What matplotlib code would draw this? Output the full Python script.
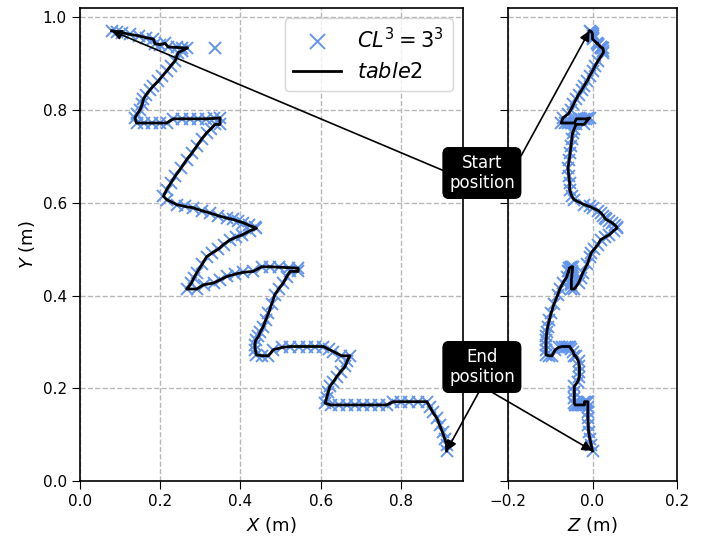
import matplotlib
matplotlib.use("Agg")
import matplotlib.pyplot as plt
import numpy as np

# Trajectory (X, Y, Z in metres), in time order
x_pos = [0.079, 0.092, 0.104, 0.125, 0.146, 0.165, 0.183, 0.187, 0.200, 0.212, 0.220, 0.241, 0.255, 0.268, 0.255, 0.245,
         0.237, 0.226, 0.216, 0.205, 0.195, 0.183, 0.175, 0.165, 0.158, 0.155, 0.150, 0.143, 0.137,
         0.141, 0.160, 0.180, 0.200, 0.216, 0.233, 0.255, 0.275, 0.295, 0.315, 0.335, 0.349, 0.349, 0.337,
         0.327, 0.316, 0.303, 0.291, 0.279, 0.266, 0.252, 0.237, 0.226, 0.216, 0.208, 0.216,
         0.241, 0.262, 0.283, 0.303, 0.324, 0.345, 0.366, 0.382, 0.395, 0.407, 0.422, 0.436, 0.440,
         0.425, 0.405, 0.390, 0.374, 0.358, 0.345, 0.330, 0.316, 0.305, 0.291, 0.284, 0.278, 0.266,
         0.291, 0.308, 0.333, 0.350, 0.366, 0.386, 0.407, 0.432, 0.453, 0.475, 0.497, 0.520, 0.544, 0.544, 0.524,
         0.515, 0.507, 0.496, 0.486, 0.478, 0.470, 0.463, 0.457, 0.450, 0.445, 0.438, 0.436, 0.437, 0.440,
         0.455, 0.470, 0.482, 0.503, 0.524, 0.545, 0.566, 0.587, 0.607, 0.620, 0.632, 0.652, 0.673,
         0.666, 0.661, 0.650, 0.640, 0.632, 0.623, 0.619, 0.615, 0.611,
         0.625, 0.645, 0.665, 0.685, 0.705, 0.725, 0.745, 0.765, 0.781, 0.800, 0.820, 0.843, 0.865,
         0.872, 0.880, 0.890, 0.897, 0.904, 0.910, 0.914, 0.914]
y_pos = [0.971, 0.969, 0.967, 0.963, 0.960, 0.956, 0.953, 0.943, 0.941, 0.944, 0.936, 0.935, 0.934, 0.934, 0.928, 0.924,
         0.906, 0.895, 0.884, 0.873, 0.862, 0.852, 0.844, 0.833, 0.823, 0.812, 0.801, 0.792, 0.783,
         0.772, 0.772, 0.772, 0.772, 0.772, 0.781, 0.781, 0.781, 0.781, 0.781, 0.782, 0.783, 0.769, 0.769,
         0.760, 0.751, 0.737, 0.722, 0.707, 0.693, 0.675, 0.657, 0.642, 0.628, 0.614, 0.607,
         0.596, 0.592, 0.589, 0.583, 0.578, 0.572, 0.567, 0.564, 0.560, 0.557, 0.551, 0.547, 0.545,
         0.540, 0.531, 0.526, 0.520, 0.510, 0.500, 0.492, 0.484, 0.468, 0.449, 0.438, 0.427, 0.414,
         0.414, 0.423, 0.427, 0.434, 0.441, 0.446, 0.450, 0.452, 0.462, 0.462, 0.461, 0.460, 0.459, 0.452, 0.452,
         0.440, 0.427, 0.415, 0.402, 0.382, 0.362, 0.347, 0.333, 0.322, 0.312, 0.303, 0.294, 0.283, 0.272,
         0.270, 0.270, 0.283, 0.288, 0.290, 0.290, 0.290, 0.290, 0.290, 0.284, 0.279, 0.270, 0.270,
         0.258, 0.247, 0.236, 0.225, 0.214, 0.204, 0.192, 0.179, 0.168,
         0.164, 0.164, 0.164, 0.164, 0.164, 0.164, 0.164, 0.164, 0.171, 0.171, 0.171, 0.171, 0.171,
         0.160, 0.148, 0.135, 0.120, 0.105, 0.090, 0.078, 0.065]
z_pos = [-0.007, -0.003, -0.001, 0.000, 0.000, 0.000, 0.000, 0.012, 0.014, 0.011, 0.019, 0.021, 0.023, 0.024, 0.026, 0.026,
         0.013, 0.006, 0.000, -0.007, -0.013, -0.020, -0.025, -0.033, -0.039, -0.045, -0.051, -0.057, -0.070,
         -0.074, -0.066, -0.057, -0.050, -0.043, -0.038, -0.032, -0.027, -0.021, -0.015, -0.010, -0.007, -0.020, -0.039,
         -0.043, -0.047, -0.049, -0.051, -0.053, -0.055, -0.058, -0.056, -0.054, -0.054, -0.049, -0.044,
         -0.020, -0.007, 0.000, 0.014, 0.020, 0.026, 0.029, 0.032, 0.040, 0.046, 0.054, 0.058, 0.058,
         0.050, 0.040, 0.030, 0.019, 0.013, 0.004, -0.003, -0.006, -0.012, -0.023, -0.028, -0.033, -0.043,
         -0.050, -0.050, -0.050, -0.050, -0.049, -0.049, -0.048, -0.048, -0.047, -0.049, -0.051, -0.053, -0.055, -0.056, -0.057,
         -0.061, -0.070, -0.077, -0.082, -0.091, -0.098, -0.102, -0.106, -0.108, -0.109, -0.110, -0.110, -0.110, -0.110,
         -0.102, -0.096, -0.088, -0.080, -0.072, -0.066, -0.060, -0.056, -0.054, -0.050, -0.046, -0.043, -0.040,
         -0.033, -0.031, -0.031, -0.031, -0.035, -0.043, -0.043, -0.043, -0.043,
         -0.041, -0.038, -0.035, -0.032, -0.028, -0.025, -0.022, -0.019, -0.019, -0.017, -0.014, -0.012, -0.011,
         -0.011, -0.011, -0.011, -0.010, -0.009, -0.006, -0.003, 0.000]

# Extra stray measurement seen near the top
x_stray = [0.337]
y_stray = [0.934]
z_stray = [0.020]

marker_label = r"$CL^3 = 3^3$"
line_label = r"$table2$"
x_ticks = [0.0, 0.2, 0.4, 0.6, 0.8]
y_ticks = [0.0, 0.2, 0.4, 0.6, 0.8, 1.0]
z_ticks = [-0.2, 0.0, 0.2]

plt.rcParams['font.family'] = ['DejaVu Sans']
plt.rcParams['mathtext.fontset'] = 'dejavusans'

fig = plt.figure(figsize=(7.01, 5.42), dpi=100)
W, H = 701, 542
ax1 = fig.add_axes([80 / W, 1 - 481 / H, (463 - 80) / W, (481 - 8) / H])
ax2 = fig.add_axes([508 / W, 1 - 481 / H, (677 - 508) / W, (481 - 8) / H])

mcol = '#6495ed'
mx = np.array(x_pos + x_stray)
my = np.array(y_pos + y_stray)
mz = np.array(z_pos + z_stray)

ax1.plot(mx, my, 'x', color=mcol, ms=9, mew=1.4, label=marker_label, zorder=2)
ax1.plot(x_pos, y_pos, '-', color='black', lw=2, label=line_label, zorder=3)
ax2.plot(mz, my, 'x', color=mcol, ms=9, mew=1.4, zorder=2)
ax2.plot(z_pos, y_pos, '-', color='black', lw=2, zorder=3)

for ax in (ax1, ax2):
    ax.set_ylim(0, 1.02)
    ax.set_yticks(y_ticks)
    ax.grid(True, linestyle='--', color='#b8b8b8', linewidth=1)
    ax.set_axisbelow(True)
    ax.tick_params(labelsize=11, length=6)
    for s in ax.spines.values():
        s.set_linewidth(1.2)

ax1.set_xlim(0, 0.955)
ax1.set_xticks(x_ticks)
ax1.set_yticklabels([f"{v:.1f}" for v in y_ticks])
ax1.set_xlabel(r"$X$ (m)", fontsize=13)
ax1.set_ylabel(r"$Y$ (m)", fontsize=13)
ax2.set_xlim(-0.2, 0.2)
ax2.set_xticks(z_ticks)
ax2.set_yticklabels([])
ax2.set_xlabel(r"$Z$ (m)", fontsize=13)

ax1.legend(loc='upper right', fontsize=15, handlelength=2.3, numpoints=1,
           framealpha=0.8, borderaxespad=0.5, markerscale=1.2)

box = dict(boxstyle='round,pad=0.35', fc='black', ec='black')
arrow = dict(arrowstyle='-|>', color='black', lw=1.2, mutation_scale=15, shrinkA=0, shrinkB=0)

start_txt = "Start\nposition"
end_txt = "End\nposition"
start_xy = (482 / W, 1 - 173 / H)
end_xy = (482 / W, 1 - 367 / H)

ax1.annotate(start_txt, xy=(x_pos[0], y_pos[0]), xycoords=ax1.transData,
             xytext=start_xy, textcoords='figure fraction', ha='center', va='center',
             color='white', fontsize=12, bbox=box,
             arrowprops=dict(arrow, relpos=(0.0, 0.5)), annotation_clip=False)
ax2.annotate(start_txt, xy=(z_pos[0], y_pos[0]), xycoords=ax2.transData,
             xytext=start_xy, textcoords='figure fraction', ha='center', va='center',
             color='white', fontsize=12, bbox=box,
             arrowprops=dict(arrow, relpos=(1.0, 0.65)), annotation_clip=False)
ax1.annotate(end_txt, xy=(x_pos[-1], y_pos[-1]), xycoords=ax1.transData,
             xytext=end_xy, textcoords='figure fraction', ha='center', va='center',
             color='white', fontsize=12, bbox=box,
             arrowprops=dict(arrow, relpos=(0.5, 0.0)), annotation_clip=False)
ax2.annotate(end_txt, xy=(z_pos[-1], y_pos[-1]), xycoords=ax2.transData,
             xytext=end_xy, textcoords='figure fraction', ha='center', va='center',
             color='white', fontsize=12, bbox=box,
             arrowprops=dict(arrow, relpos=(0.5, 0.0)), annotation_clip=False)

fig.savefig("out.png", dpi=100)
